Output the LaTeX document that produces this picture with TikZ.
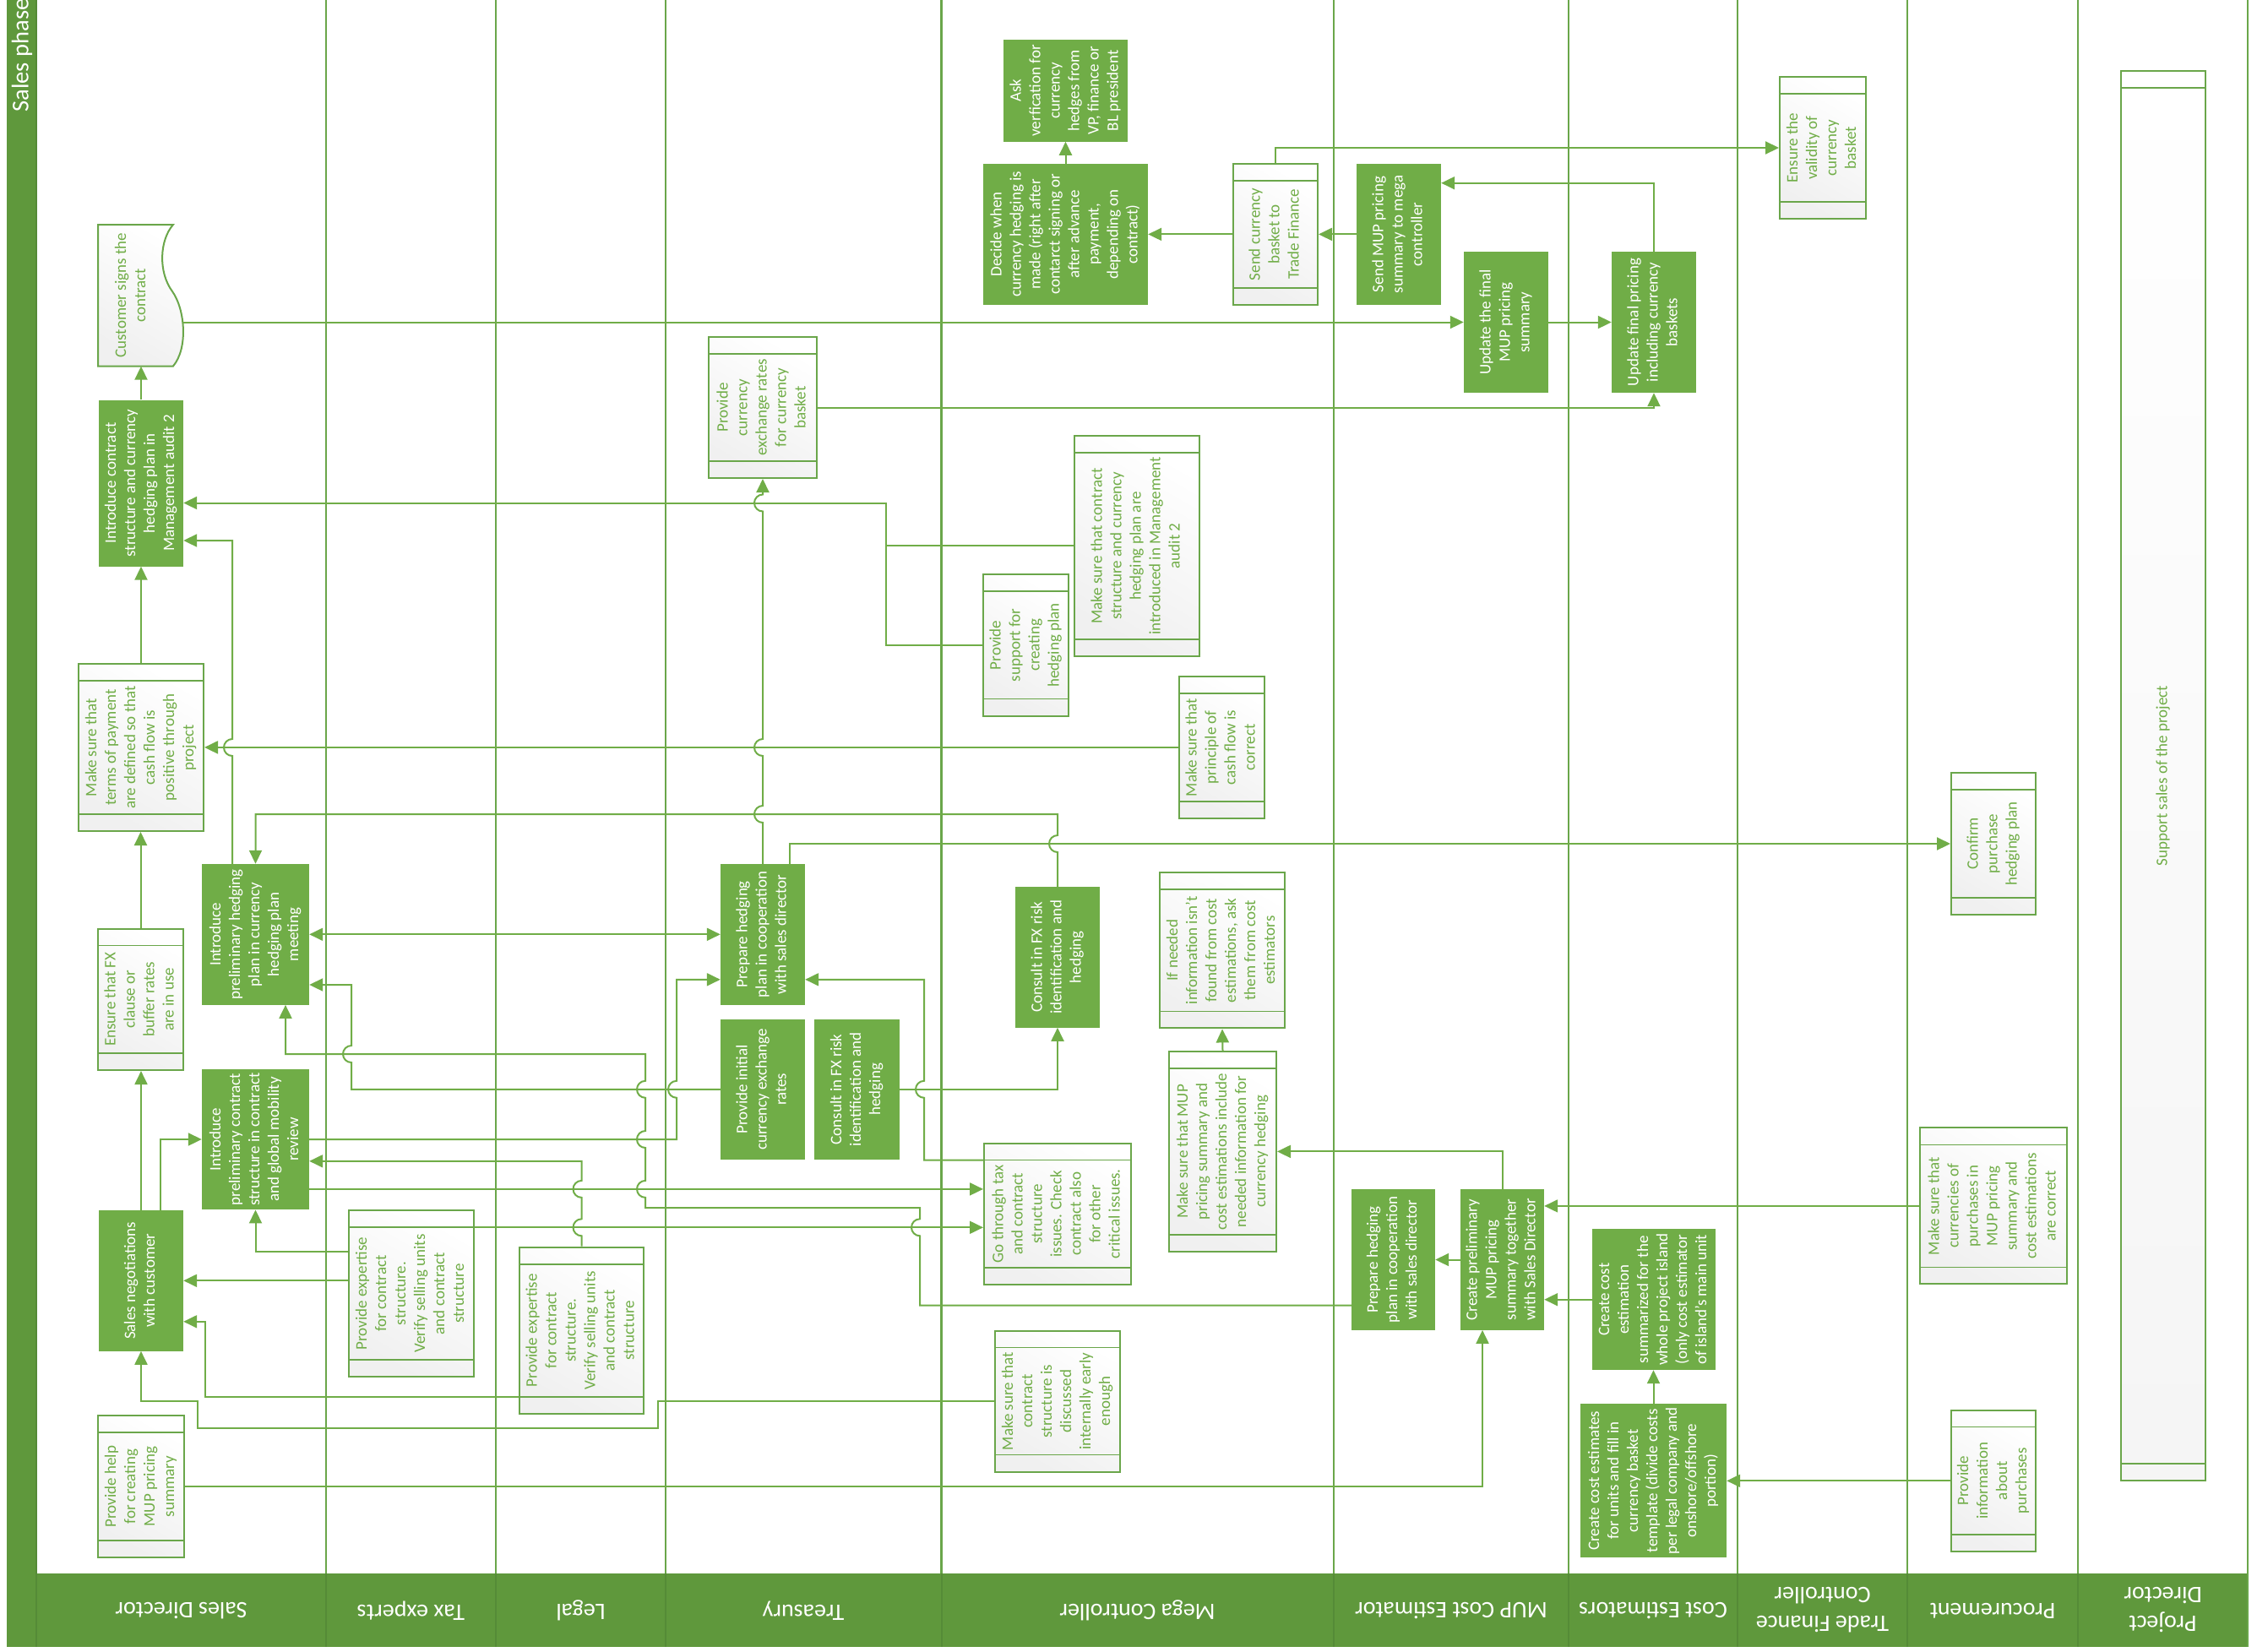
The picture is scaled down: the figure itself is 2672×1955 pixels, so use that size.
\documentclass[tikz,border=0pt]{standalone}
\usepackage{fontspec}
\setmainfont{Carlito}
\usepackage{graphicx}
\usetikzlibrary{arrows.meta}
\definecolor{actgreen}{HTML}{70AD47}
\definecolor{bandgreen}{HTML}{5F983C}
\definecolor{lanegreen}{HTML}{6AA64A}
\definecolor{sepgreen}{HTML}{558B37}
\newcommand{\vt}[1]{\rotatebox{90}{\begin{tabular}{@{}c@{}}#1\end{tabular}}}

\begin{document}
\begin{tikzpicture}[x=1pt, y=-1pt,
    act/.style={fill=actgreen, text=white, inner sep=0pt, font=\fontsize{19}{23}\selectfont},
    doc/.style={draw=lanegreen, line width=2pt, text=actgreen, inner sep=0pt,
      top color=white, bottom color=black!6, shading angle=-30,
      font=\fontsize{19}{23}\selectfont,
      path picture={\draw[lanegreen, line width=1.6pt]
        ([yshift=-20pt]path picture bounding box.north west) -- ([yshift=-20pt]path picture bounding box.north east)
        ([yshift=20pt]path picture bounding box.south west) -- ([yshift=20pt]path picture bounding box.south east);}},
    flow/.style={draw=actgreen, line width=2pt, -{Triangle[length=16pt, width=15pt]}},
    both/.style={flow, {Triangle[length=16pt, width=15pt]}-{Triangle[length=16pt, width=15pt]}},
    link/.style={draw=actgreen, line width=2pt},
    lane/.style={draw=lanegreen, line width=2.4pt},
    lanelabel/.style={text=white, rotate=180, align=center, font=\fontsize{28}{34}\selectfont}]

% frame and lanes
\fill[white] (0,0) rectangle (2672,1955);
\useasboundingbox (0,0) rectangle (2672,1955);
\fill[bandgreen] (8,0) rectangle (43,1950);
\fill[bandgreen] (43,1862.5) rectangle (2661,1950);
\foreach \x in {386,587,788,1114.5,1579,1857,2057,2258,2460} {
  \draw[lane] (\x,0) -- (\x,1862.5);
  \draw[sepgreen, line width=2pt] (\x,1862.5) -- (\x,1950);
}
\draw[lane] (2661,0) -- (2661,1950);
\draw[sepgreen, line width=1.5pt] (43,0) -- (43,1950);
\node[text=white, rotate=90, anchor=west, font=\fontsize{28.5}{30}\selectfont] (phase) at (26,136) {Sales phase};

\node[lanelabel] (lab1) at (214.5,1907) {Sales Director};
\node[lanelabel] (lab2) at (486.5,1907) {Tax experts};
\node[lanelabel] (lab3) at (687.5,1907) {Legal};
\node[lanelabel] (lab4) at (951,1907) {Treasury};
\node[lanelabel] (lab5) at (1346.5,1907) {Mega Controller};
\node[lanelabel] (lab6) at (1718,1907) {MUP Cost Estimator};
\node[lanelabel] (lab7) at (1957,1907) {Cost Estimators};
\node[lanelabel] (lab8) at (2157.5,1906) {Trade Finance\\Controller};
\node[lanelabel] (lab9) at (2359,1907) {Procurement};
\node[lanelabel] (lab10) at (2560.5,1906) {Project\\Director};

% Sales Director
\draw[draw=lanegreen, line width=2pt, top color=white, bottom color=black!6, shading angle=-30]
  (116,266) -- (205,266) .. controls (189,284) and (187,322) .. (204,345)
  .. controls (219,366) and (223,412) .. (205,433.5) -- (116,433.5) -- cycle;
\node[inner sep=0pt, text=actgreen, font=\fontsize{19}{23}\selectfont, minimum width=122, minimum height=167.5] (N1) at (156,349.75) {\vt{Customer signs the\\contract}};
\node[act, minimum width=100, minimum height=197] (N2) at (167,572) {\vt{Introduce contract\\structure and currency\\hedging plan in\\Management audit 2}};
\node[doc, minimum width=148, minimum height=198] (N3) at (167,885) {\vt{Make sure that\\terms of payment\\are defined so that\\cash flow is\\positive through\\project}};
\node[doc, minimum width=101, minimum height=167.5] (N4) at (166.5,1183.3) {\vt{Ensure that FX\\clause or\\buffer rates\\are in use}};
\node[act, minimum width=127, minimum height=166.7] (N5) at (302.5,1106.3) {\vt{Introduce\\preliminary hedging\\plan in currency\\hedging plan\\meeting}};
\node[act, minimum width=127, minimum height=166.5] (N6) at (302.5,1349) {\vt{Introduce\\preliminary contract\\structure in contract\\and global mobility\\review}};
\node[act, minimum width=100, minimum height=166.6] (N7) at (167,1516.3) {\vt{Sales negotiations\\with customer}};
\node[doc, minimum width=102, minimum height=168] (N8) at (167,1760) {\vt{Provide help\\for creating\\MUP pricing\\summary}};

% Tax experts, Legal
\node[doc, minimum width=148, minimum height=197] (T1) at (487,1531.5) {\vt{Provide expertise\\for contract\\structure.\\Verify selling units\\and contract\\structure}};
\node[doc, minimum width=147, minimum height=197] (L1) at (688.5,1575.2) {\vt{Provide expertise\\for contract\\structure.\\Verify selling units\\and contract\\structure}};

% Treasury
\node[doc, minimum width=128, minimum height=167] (R1) at (903,482.5) {\vt{Provide\\currency\\exchange rates\\for currency\\basket}};
\node[act, minimum width=100, minimum height=166.7] (R2) at (903,1106.3) {\vt{Prepare hedging\\plan in cooperation\\with sales director}};
\node[act, minimum width=100, minimum height=166.5] (R3) at (903,1289.8) {\vt{Provide initial\\currency exchange\\rates}};
\node[act, minimum width=101, minimum height=166.5] (R4) at (1014.5,1289.8) {\vt{Consult in FX risk\\identification and\\hedging}};

% Mega Controller
\node[act, minimum width=147, minimum height=120.5] (M1) at (1261.5,107.3) {\vt{Ask\\verfication for\\currency\\hedges from\\VP, finance or\\BL president}};
\node[act, minimum width=195, minimum height=166.7] (M2) at (1261.5,277.4) {\vt{Decide when\\currency hedging is\\made (right after\\contarct signing or\\after advance\\payment,\\depending on\\contract)}};
\node[doc, minimum width=100, minimum height=167] (M3) at (1510,277.4) {\vt{Send currency\\basket to\\Trade Finance}};
\node[doc, minimum width=148, minimum height=261] (M4) at (1346,646.4) {\vt{Make sure that contract\\structure and currency\\hedging plan are\\introduced in Management\\audit 2}};
\node[doc, minimum width=101, minimum height=167.5] (M5) at (1214.5,763.8) {\vt{Provide\\support for\\creating\\hedging plan}};
\node[doc, minimum width=101, minimum height=167.7] (M6) at (1446.5,884.9) {\vt{Make sure that\\principle of\\cash flow is\\correct}};
\node[act, minimum width=100, minimum height=166.6] (M7) at (1252,1133.3) {\vt{Consult in FX risk\\identification and\\hedging}};
\node[doc, minimum width=148, minimum height=184.4] (M8) at (1447,1125.2) {\vt{If needed\\information isn’t\\found from cost\\estimations, ask\\them from cost\\estimators}};
\node[doc, minimum width=127, minimum height=237.2] (M9) at (1447.5,1363.4) {\vt{Make sure that MUP\\pricing summary and\\cost estimations include\\needed information for\\currency hedging}};
\node[doc, minimum width=174, minimum height=167.4] (M10) at (1252,1437.3) {\vt{Go through tax\\and contract\\structure\\issues. Check\\contract also\\for other\\critical issues.}};
\node[doc, minimum width=148, minimum height=167] (M11) at (1252,1659) {\vt{Make sure that\\contract\\structure is\\discussed\\internally early\\enough}};

% MUP Cost Estimator
\node[act, minimum width=100, minimum height=166.7] (U1) at (1656,277.4) {\vt{Send MUP pricing\\summary to mega\\controller}};
\node[act, minimum width=100, minimum height=167] (U2) at (1783,381.5) {\vt{Update the final\\MUP pricing\\summary}};
\node[act, minimum width=99, minimum height=166.3] (U3) at (1649.5,1491.5) {\vt{Prepare hedging\\plan in cooperation\\with sales director}};
\node[act, minimum width=99, minimum height=166.3] (U4) at (1778.5,1491.5) {\vt{Create preliminary\\MUP pricing\\summary together\\with Sales Director}};

% Cost Estimators
\node[act, minimum width=100, minimum height=167] (C1) at (1958,381.5) {\vt{Update final pricing\\including currency\\baskets}};
\node[act, minimum width=146, minimum height=166.6] (C2) at (1958,1538.7) {\vt{Create cost\\estimation\\summarized for the\\whole project island\\(only cost estimator\\of island’s main unit}};
\node[act, minimum width=173, minimum height=182.3] (C3) at (1957.5,1753.2) {\vt{Create cost estimates\\for units and fill in\\currency basket\\template (divide costs\\per legal company and\\onshore/offshore\\portion)}};

% Trade Finance Controller, Procurement, Project Director
\node[doc, minimum width=102, minimum height=168] (F1) at (2158,175) {\vt{Ensure the\\validity of\\currency\\basket}};
\node[doc, minimum width=100, minimum height=168] (P1) at (2360,999) {\vt{Confirm\\purchase\\hedging plan}};
\node[doc, minimum width=174, minimum height=185] (P2) at (2360,1427.9) {\vt{Make sure that\\currencies of\\purchases in\\MUP pricing\\summary and\\cost estimations\\are correct}};
\node[doc, minimum width=100, minimum height=167.4] (P3) at (2360,1753.3) {\vt{Provide\\information\\about\\purchases}};
\node[doc, minimum width=100, minimum height=1669, top color=white, bottom color=black!4] (D1) at (2561,918.5) {\vt{Support sales of the project}};

% connectors
\draw[flow] (N2.north) -- (N2.north |- N1.south);
\draw[flow] (N1.east |- U2.west) -- (U2.west);
\draw[flow] (N3.north) -- (N2.south);
\draw[flow] (N4.north) -- (N4.north |- N3.south);
\draw[flow] (N7.north) -- (N7.north |- N4.south);
\draw[flow] ([xshift=23pt]N7.north) |- (N6.west);
\draw[flow] (N5.north -| 275,0) -- (275,895) arc[start angle=90, end angle=270, radius=10] -- (275,640) -- (N2.east |- 0,640);
\draw[flow] (M6.west) -- (N3.east |- M6.west);
\draw[flow] (R2.north) -- (903,974) arc[start angle=90, end angle=270, radius=10]
  -- (903,895) arc[start angle=90, end angle=270, radius=10]
  -- (903,605.5) arc[start angle=90, end angle=270, radius=10] -- (R1.south);
\draw[flow] (M7.north) -- (1252,1009) arc[start angle=90, end angle=270, radius=10]
  -- (1252,964) -- (N5.north |- 0,964) -- (N5.north);
\draw[flow] ([xshift=32pt]R2.north) |- (P1.west);
\draw[both] (N5.east) -- (R2.west);
\draw[flow] (R3.west) -- (416,1289.8) -- (416,1258) arc[start angle=90, end angle=270, radius=10]
  -- (416,1166) -- (N5.east |- 0,1166);
\draw[flow] (U3.west |- 0,1545.7) -- (1089,1545.7) -- (1089,1463.3) arc[start angle=90, end angle=270, radius=10]
  -- (1089,1430) -- (764,1430) -- (764,1417.9) arc[start angle=90, end angle=270, radius=10]
  -- (764,1359) arc[start angle=90, end angle=270, radius=10]
  -- (764,1299.8) arc[start angle=90, end angle=270, radius=10]
  -- (764,1248) -- (338,1248) -- (N5.south -| 338,0);
\draw[flow] (N6.east) -- (801,1349) -- (801,1299.8) arc[start angle=90, end angle=270, radius=10]
  -- (801,1159.8) -- (R2.west |- 0,1159.8);
\draw[flow] (M10.west |- 0,1373.5) -- (1094,1373.5) -- (1094,1299.8) arc[start angle=90, end angle=270, radius=10]
  -- (1094,1159.8) -- (R2.east |- 0,1159.8);
\draw[flow] (R4.east) -| (M7.south);
\draw[flow] (L1.north) -- (688.5,1463.3) arc[start angle=90, end angle=270, radius=10]
  -- (688.5,1417.9) arc[start angle=90, end angle=270, radius=10]
  -- (688.5,1374.8) -- (N6.east |- 0,1374.8);
\draw[flow] (N6.east |- 0,1407.9) -- (M10.west |- 0,1407.9);
\draw[flow] (T1.east |- 0,1453.3) -- (M10.west |- 0,1453.3);
\draw[flow] (T1.west |- 0,1481.7) -| (N6.south);
\draw[flow] (T1.west |- N7.east) -- (N7.east);
\draw[flow] (L1.west |- 0,1653.9) -- (243,1653.9) -- (243,1564.8) -- (N7.east |- 0,1564.8);
\draw[flow] (M11.west) -- (779,1659) -- (779,1690.8) -- (234,1690.8) -- (234,1659) -- (167,1659) -- (N7.south);
\draw[flow] (N8.east) -- (1755,1760) -- (U4.south -| 1755,0);
\draw[flow] (M9.north) -- (M8.south);
\draw[flow] (U4.north) -- (1778.5,1363.4) -- (M9.east |- 0,1363.4);
\draw[flow] (U4.west) -- (U3.east);
\draw[flow] (C2.west) -- (U4.east |- C2.west);
\draw[flow] (P2.west) -- (U4.east |- P2.west);
\draw[flow] (C3.north) -- (C3.north |- C2.south);
\draw[flow] (P3.west) -- (C3.east |- P3.west);
\draw[flow] (M2.north) -- (M1.south);
\draw[flow] (M3.west) -- (M2.east);
\draw[flow] (U1.west) -- (M3.east);
\draw[flow] (M3.north) |- (F1.west);
\draw[flow] (C1.north) -- (1958,216.7) -- (U1.east |- 0,216.7);
\draw[flow] (U2.east) -- (C1.west);
\draw[flow] (R1.east) -| (C1.south);
\draw[link] (M4.west) -- (1049,646.4);
\draw[flow] (M5.west) -- (1049,763.8) -- (1049,595.5) -- (N2.east |- 0,595.5);
\end{tikzpicture}
\end{document}
